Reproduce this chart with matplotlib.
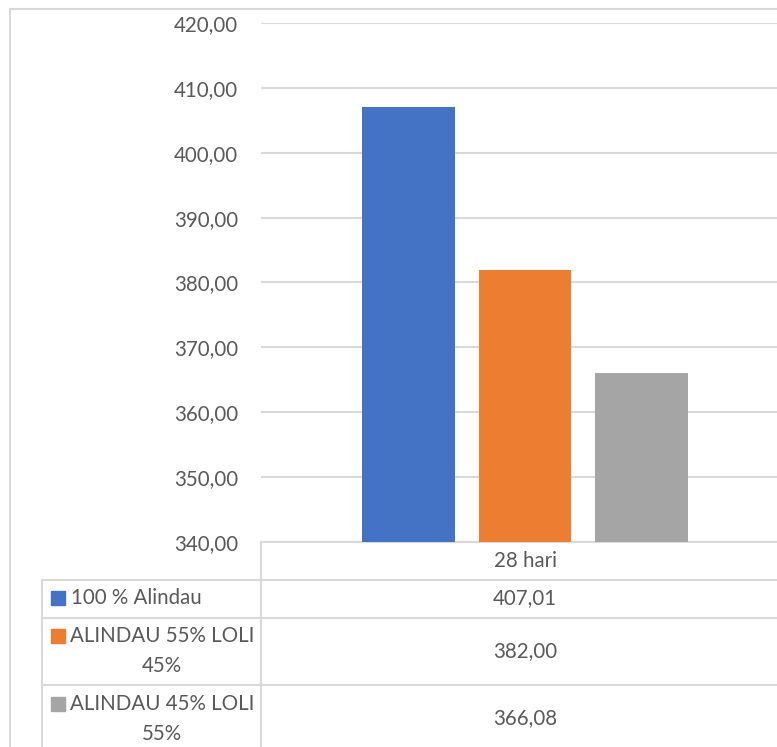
import matplotlib
matplotlib.use('Agg')
import matplotlib.pyplot as plt

plt.rcParams['font.family'] = ['Lato', 'DejaVu Sans']

# data
category = '28 hari'
series = ['100 % Alindau', 'ALINDAU 55% LOLI\n45%', 'ALINDAU 45% LOLI\n55%']
values = [407.01, 382.00, 366.08]
colors = ['#4472C4', '#ED7D31', '#A5A5A5']
yticks = [340, 350, 360, 370, 380, 390, 400, 410, 420]

W, H = 777, 747
txt = '#595959'
grid = '#D9D9D9'
fs = 14.8

def fmt(v):
    return f'{v:.2f}'.replace('.', ',')

fig = plt.figure(figsize=(W / 100, H / 100), dpi=100)

# background layer in pixel coordinates for border and data table
bg = fig.add_axes([0, 0, 1, 1])
bg.set_xlim(0, W)
bg.set_ylim(H, 0)
bg.axis('off')

# chart border
bg.plot([10, 10], [9, H], color=grid, lw=1.5)
bg.plot([10, W], [9, 9], color=grid, lw=1.5)

# data table grid
row_y = [542, 580, 618, 685]
bg.plot([261, W], [542, 542], color=grid, lw=1.5, zorder=1)
for y in row_y[1:]:
    bg.plot([42, W], [y, y], color=grid, lw=1.5)
bg.plot([261, 261], [542, H], color=grid, lw=1.5)
bg.plot([42, 42], [580, H], color=grid, lw=1.5)

bg.text(525, 561, category, ha='center', va='center', color=txt, fontsize=fs)
key_y = [598, 636, 704]
text_y = [598, 651, 718]
for i, (name, val, c) in enumerate(zip(series, values, colors)):
    bg.add_patch(plt.Rectangle((51, key_y[i] - 7), 14, 14, color=c))
    if '\n' in name:
        first, second = name.split('\n')
        bg.text(162, key_y[i], first, ha='center', va='center', color=txt, fontsize=fs)
        bg.text(162, key_y[i] + 30, second, ha='center', va='center', color=txt, fontsize=fs)
    else:
        bg.text(71, key_y[i], name, ha='left', va='center', color=txt, fontsize=fs)
    bg.text(525, text_y[i], fmt(val), ha='center', va='center', color=txt, fontsize=fs)

# bar plot area
left, right, top, bottom = 261, 789, 23, 542
ax = fig.add_axes([left / W, 1 - bottom / H, (right - left) / W, (bottom - top) / H])
ax.patch.set_alpha(0)
ax.set_xlim(-0.5, 0.5)
ax.set_ylim(340, 420)
ax.set_yticks(yticks)
ax.set_yticklabels([fmt(t) for t in yticks], color=txt, fontsize=fs)
ax.tick_params(axis='y', length=0, pad=16.5)
ax.set_xticks([])
ax.grid(axis='y', color=grid, lw=1.5)
ax.set_axisbelow(True)
for s in ax.spines.values():
    s.set_visible(False)

offsets = [-0.2215, 0.0, 0.2215]
for off, v, c in zip(offsets, values, colors):
    ax.bar(off, v - 340, bottom=340, width=0.176, color=c, zorder=2)

fig.savefig('out.png', dpi=100)
